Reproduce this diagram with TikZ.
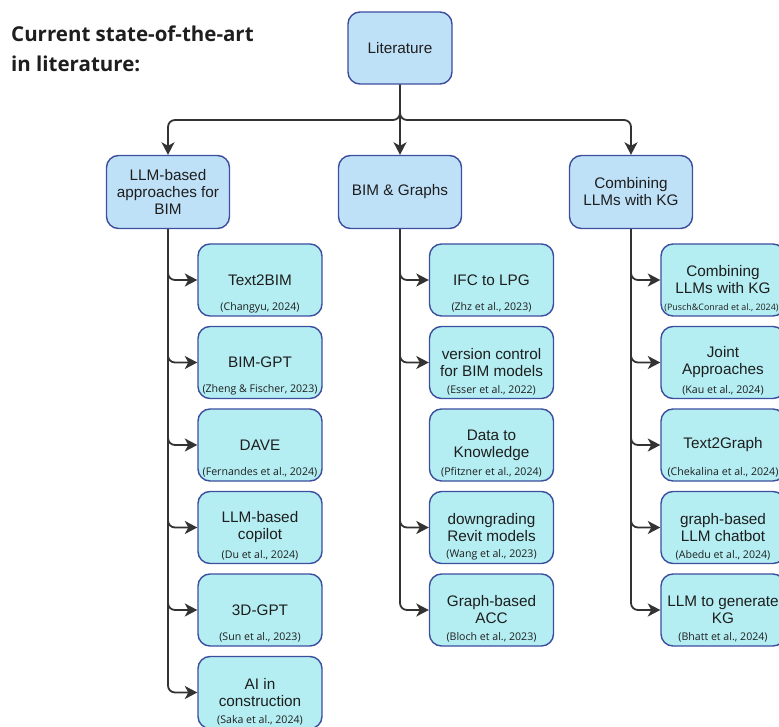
\documentclass[tikz,border=0pt]{standalone}
\usepackage{fontspec}
\setmainfont{Liberation Sans}
\newfontfamily\osans{Open Sans}
\usetikzlibrary{arrows.meta}
\definecolor{catc}{HTML}{BFE1F8}
\definecolor{leafc}{HTML}{B4EEF2}
\definecolor{bordc}{HTML}{3C4E9E}
\definecolor{linec}{HTML}{333333}
\definecolor{txt}{HTML}{1E1E1E}
\begin{document}
\begin{tikzpicture}[x=1pt,y=-1pt,
  title/.style={font=\osans\bfseries\fontsize{20.5}{24}\selectfont, text=txt, inner sep=0pt, anchor=base west},
  box/.style={draw=bordc, line width=1.4pt, rounded corners=12pt, align=center, text=txt,
    font=\fontsize{15.3}{17}\selectfont, inner sep=2pt},
  cat/.style={box, fill=catc, minimum width=123pt, minimum height=73pt},
  leaf/.style={box, fill=leafc, minimum width=124pt, minimum height=72pt},
  cite/.style={font=\osans\fontsize{10.6}{12}\selectfont, text=txt, inner sep=0pt},
  conn/.style={draw=linec, line width=1.8pt, rounded corners=7pt},
  tip/.style={-{Stealth[length=12.5pt,width=13pt,inset=3.5pt]}}
]
\useasboundingbox (0,0) rectangle (779,727);
\clip (0,0) rectangle (779,727);

% heading
\node[title] (t1) at (11,42) {Current state-of-the-art};
\node[title] (t2) at (11,72) {in literature:};

% root and categories
\node[cat, minimum width=104pt, minimum height=72pt] (lit) at (400,48) {Literature};
\coordinate (hub) at (400,120);
\node[cat] (c1) at (168,192) {LLM-based\\approaches for\\BIM};
\node[cat] (c2) at (400,192) {BIM \& Graphs};
\node[cat] (c3) at (631,192) {Combining\\LLMs with KG};

\draw[conn,tip] (lit.south) -- (hub) -| (c1.north);
\draw[conn,tip] (lit.south) -- (c2.north);
\draw[conn,tip] (lit.south) -- (hub) -| (c3.north);

% LLM-based approaches for BIM
\node[leaf] (l1) at (260,280)   {Text2BIM};
\node[leaf] (l2) at (260,362.5) {BIM-GPT};
\node[leaf] (l3) at (260,445)   {DAVE};
\node[leaf] (l4) at (260,527.5) {LLM-based\\copilot};
\node[leaf] (l5) at (260,610)   {3D-GPT};
\node[leaf] (l6) at (260,692.5) {AI in\\construction};
\node[cite] (l1c) at ([yshift=9pt]l1.south) {(Changyu, 2024)};
\node[cite] (l2c) at ([yshift=9pt]l2.south) {(Zheng \& Fischer, 2023)};
\node[cite] (l3c) at ([yshift=9pt]l3.south) {(Fernandes et al., 2024)};
\node[cite] (l4c) at ([yshift=9pt]l4.south) {(Du et al., 2024)};
\node[cite] (l5c) at ([yshift=9pt]l5.south) {(Sun et al., 2023)};
\node[cite] (l6c) at ([yshift=9pt]l6.south) {(Saka et al., 2024)};
\foreach \n in {l1,l2,l3,l4,l5,l6}
  \draw[conn,tip] (c1.south) |- (\n.west);

% BIM & Graphs
\node[leaf] (m1) at (491.5,280)   {IFC to LPG};
\node[leaf] (m2) at (491.5,362.5) {version control\\for BIM models};
\node[leaf] (m3) at (491.5,445)   {Data to\\Knowledge};
\node[leaf] (m4) at (491.5,527.5) {downgrading\\Revit models};
\node[leaf] (m5) at (491.5,610)   {Graph-based\\ACC};
\node[cite] (m1c) at ([yshift=9pt]m1.south) {(Zhz et al., 2023)};
\node[cite] (m2c) at ([yshift=9pt]m2.south) {(Esser et al., 2022)};
\node[cite] (m3c) at ([yshift=9pt]m3.south) {(Pfitzner et al., 2024)};
\node[cite] (m4c) at ([yshift=9pt]m4.south) {(Wang et al., 2023)};
\node[cite] (m5c) at ([yshift=9pt]m5.south) {(Bloch et al., 2023)};
\foreach \n in {m1,m2,m4,m5}
  \draw[conn,tip] (c2.south) |- (\n.west);

% Combining LLMs with KG
\node[leaf] (r1) at (723,280)   {Combining\\LLMs with KG};
\node[leaf] (r2) at (723,362.5) {Joint\\Approaches};
\node[leaf] (r3) at (723,445)   {Text2Graph};
\node[leaf] (r4) at (723,527.5) {graph-based\\LLM chatbot};
\node[leaf] (r5) at (723,610)   {LLM to generate\\KG};
\node[cite, font=\osans\fontsize{8.9}{11}\selectfont] (r1c) at ([yshift=9pt,xshift=-1.5pt]r1.south) {(Pusch\&Conrad et al., 2024)};
\node[cite] (r2c) at ([yshift=9pt]r2.south) {(Kau et al., 2024)};
\node[cite] (r3c) at ([yshift=9pt]r3.south) {(Chekalina et al., 2024)};
\node[cite] (r4c) at ([yshift=9pt]r4.south) {(Abedu et al., 2024)};
\node[cite] (r5c) at ([yshift=9pt]r5.south) {(Bhatt et al., 2024)};
\foreach \n in {r1,r2,r3,r4,r5}
  \draw[conn,tip] (c3.south) |- (\n.west);
\end{tikzpicture}
\end{document}
